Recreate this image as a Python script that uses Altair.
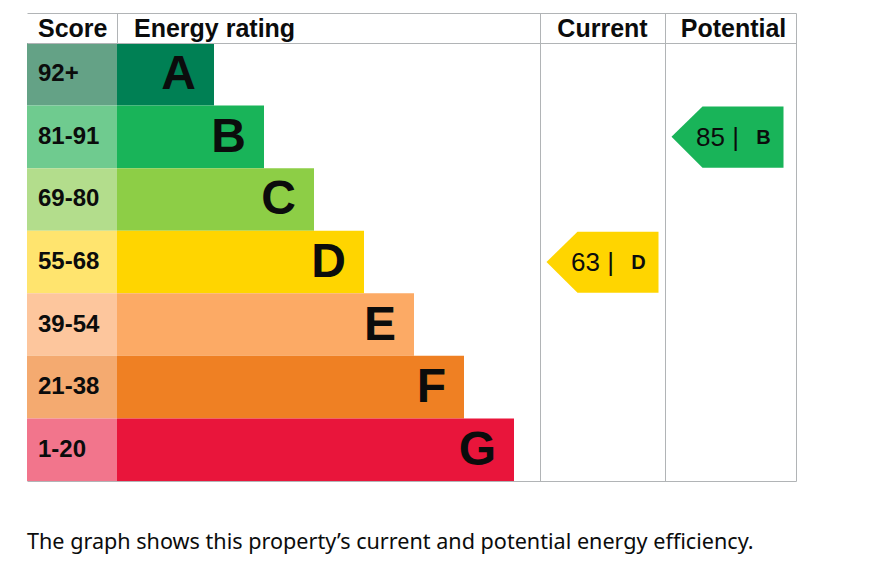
import pandas as pd
import altair as alt

# data
BANDS = ["A", "B", "C", "D", "E", "F", "G"]
SCORE_RANGES = ["92+", "81-91", "69-80", "55-68", "39-54", "21-38", "1-20"]
BAND_MIN_SCORES = [92, 81, 69, 55, 39, 21, 1]
CURRENT_SCORE = 63
POTENTIAL_SCORE = 85
HEADERS = ["Score", "Energy rating", "Current", "Potential"]
CAPTION = "The graph shows this property\u2019s current and potential energy efficiency."

# styles
BAR_COLOURS = ["#008054", "#19b459", "#8dce46", "#ffd500", "#fcaa65", "#ef8023", "#e9153b"]
SCORE_COLOURS = ["#64a286", "#6fcb8f", "#b3dd8c", "#ffe46e", "#fdc69d", "#f4aa70", "#f2758c"]
LINE = "#b1b4b6"
INK = "#0b0c0c"
FONT = "Liberation Sans"

# layout (page pixel units)
W, H = 857, 567
X0, SCORE_X1, RATING_X1, CURRENT_X1, POTENTIAL_X1 = 27, 117, 540, 665, 796
Y0, HEADER_Y1, Y1 = 13, 43, 481
ROW_H = (Y1 - HEADER_Y1) / len(BANDS)
BAR_BASE, BAR_STEP = 97, 50
ARROW_INSET, ARROW_TIP, ARROW_W = 6.5, 31, 112

xs = alt.Scale(domain=[8, 8 + W], nice=False, zero=False)
ys = alt.Scale(domain=[8, 8 + H], nice=False, zero=False, reverse=True)


def X(f):
    return alt.X(f, type="quantitative", scale=xs, axis=None)


def Y(f):
    return alt.Y(f, type="quantitative", scale=ys, axis=None)


bands = pd.DataFrame({"band": BANDS, "range": SCORE_RANGES,
                      "bar": BAR_COLOURS, "light": SCORE_COLOURS})
bands["i"] = range(len(BANDS))
bands["y0"] = HEADER_Y1 + bands["i"] * ROW_H
bands["y1"] = bands["y0"] + ROW_H
bands["ym"] = (bands["y0"] + bands["y1"]) / 2
bands["x0"] = X0
bands["xs"] = SCORE_X1
bands["xe"] = SCORE_X1 + BAR_BASE + BAR_STEP * bands["i"]
bands["xl"] = bands["xe"] - 18
bands["xr"] = X0 + 11

score_rects = alt.Chart(bands).mark_rect().encode(
    x=X("x0"), x2="xs", y=Y("y0"), y2="y1",
    color=alt.Color("light:N", scale=None))
bar_rects = alt.Chart(bands).mark_rect().encode(
    x=X("xs"), x2="xe", y=Y("y0"), y2="y1",
    color=alt.Color("bar:N", scale=None))
range_text = alt.Chart(bands).mark_text(
    align="left", baseline="middle", font=FONT, fontSize=24, fontWeight="bold", color=INK
).encode(x=X("xr"), y=Y("ym"), text="range:N")
letter_text = alt.Chart(bands).mark_text(
    align="right", baseline="middle", font=FONT, fontSize=48, fontWeight="bold", color=INK, dy=1
).encode(x=X("xl"), y=Y("ym"), text="band:N")


def band_of(score):
    return next(b for b, m in zip(BANDS, BAND_MIN_SCORES) if score >= m)


# arrows: polygon as an area (tip, shoulder, end)
arrow_rows, arrow_labels = [], []
for name, score, col_x0, col_x1 in [("current", CURRENT_SCORE, RATING_X1, CURRENT_X1),
                                     ("potential", POTENTIAL_SCORE, CURRENT_X1, POTENTIAL_X1)]:
    band = band_of(score)
    r = bands[bands["band"] == band].iloc[0]
    tip = col_x0 + ARROW_INSET
    right = tip + ARROW_W
    top, bot, mid = r["y0"] + 1, r["y1"] - 0.5, r["ym"]
    for x, a, b in [(tip, mid, mid), (tip + ARROW_TIP, top, bot), (right, top, bot)]:
        arrow_rows.append({"arrow": name, "x": x, "ya": a, "yb": b, "colour": r["bar"]})
    arrow_labels.append({"num": f"{score} |", "band": band, "xn": right - 44.5,
                         "xb": right - 20, "y": mid})
arrows_df = pd.DataFrame(arrow_rows)
labels_df = pd.DataFrame(arrow_labels)

arrows = alt.Chart(arrows_df).mark_area(orient="vertical").encode(
    x=X("x"), y=Y("ya"), y2="yb", detail="arrow:N",
    color=alt.Color("colour:N", scale=None))
arrow_num = alt.Chart(labels_df).mark_text(
    align="right", baseline="middle", font=FONT, fontSize=26, color=INK, dy=1
).encode(x=X("xn"), y=Y("y"), text="num:N")
arrow_band = alt.Chart(labels_df).mark_text(
    align="center", baseline="middle", font=FONT, fontSize=20, fontWeight="bold", color=INK, dy=1
).encode(x=X("xb"), y=Y("y"), text="band:N")

# table grid
grid = pd.DataFrame([
    {"x": X0, "x2": POTENTIAL_X1, "y": Y0, "y2": Y0},
    {"x": X0, "x2": POTENTIAL_X1, "y": HEADER_Y1, "y2": HEADER_Y1},
    {"x": X0, "x2": POTENTIAL_X1, "y": Y1, "y2": Y1},
    {"x": SCORE_X1, "x2": SCORE_X1, "y": Y0, "y2": HEADER_Y1},
    {"x": RATING_X1, "x2": RATING_X1, "y": Y0, "y2": Y1},
    {"x": CURRENT_X1, "x2": CURRENT_X1, "y": Y0, "y2": Y1},
    {"x": POTENTIAL_X1, "x2": POTENTIAL_X1, "y": Y0, "y2": Y1},
]) + 0.5
lines = alt.Chart(grid).mark_rule(color=LINE, strokeWidth=1).encode(
    x=X("x"), x2="x2", y=Y("y"), y2="y2")

head = pd.DataFrame({"t": HEADERS,
                     "x": [X0 + 11, SCORE_X1 + 17, (RATING_X1 + CURRENT_X1) / 2,
                           (CURRENT_X1 + POTENTIAL_X1) / 2 + 3],
                     "align": ["left", "left", "center", "center"],
                     "y": [37] * 4})
head_left = alt.Chart(head[head["align"] == "left"]).mark_text(
    align="left", baseline="alphabetic", font=FONT, fontSize=25, fontWeight="bold", color=INK
).encode(x=X("x"), y=Y("y"), text="t:N")
head_center = alt.Chart(head[head["align"] == "center"]).mark_text(
    align="center", baseline="alphabetic", font=FONT, fontSize=25, fontWeight="bold", color=INK
).encode(x=X("x"), y=Y("y"), text="t:N")

caption = alt.Chart(pd.DataFrame({"t": [CAPTION], "x": [X0], "y": [549]})).mark_text(
    align="left", baseline="alphabetic", font="Noto Sans", fontSize=21.6, color=INK
).encode(x=X("x"), y=Y("y"), text="t:N")

chart = alt.layer(
    score_rects, bar_rects, range_text, letter_text, arrows, arrow_num, arrow_band,
    lines, head_left, head_center, caption
).properties(
    width=W, height=H, padding=0, autosize=alt.AutoSizeParams(type="none"),
    background="white"
).configure_view(strokeWidth=0)

chart.save("out.html", embed_options={"renderer": "svg", "actions": False})
